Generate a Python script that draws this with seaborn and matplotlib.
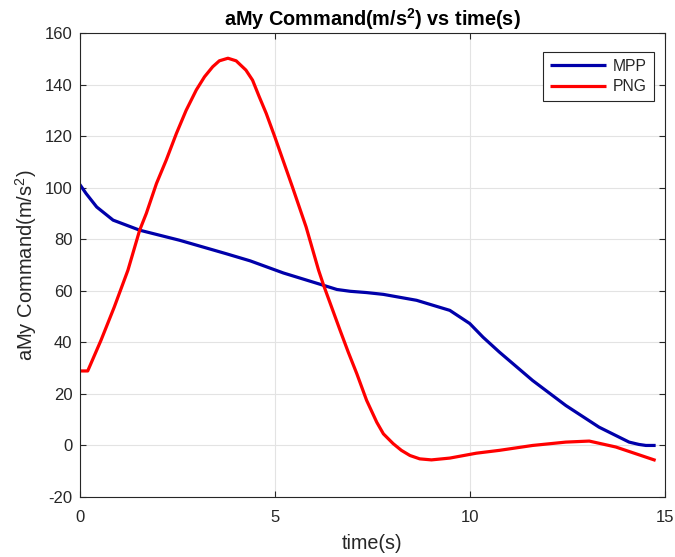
import pandas as pd
import numpy as np
import matplotlib
matplotlib.use('Agg')
import matplotlib.pyplot as plt
import seaborn as sns

# Values
mpp_t = [0, 0.17, 0.44, 0.86, 1.54, 2.56, 3.75, 4.37, 5.22, 6.25, 6.59, 6.93, 7.35,
         7.78, 8.63, 9.48, 9.99, 10.33, 10.75, 11.6, 12.45, 13.3, 14.07, 14.32, 14.5, 14.75]
mpp_y = [101.4, 97.7, 92.5, 87.4, 83.5, 79.6, 74.4, 71.6, 66.9, 62.1, 60.5, 59.8, 59.3,
         58.6, 56.3, 52.4, 47.3, 42.0, 36.2, 25.2, 15.5, 7.1, 1.3, 0.4, 0.0, 0.0]

png_t = [0, 0.21, 0.55, 0.89, 1.24, 1.54, 1.71, 1.97, 2.22, 2.48, 2.73, 2.99, 3.20,
         3.41, 3.58, 3.80, 4.01, 4.26, 4.43, 4.60, 4.78, 5.0, 5.45, 5.8, 6.12, 6.25,
         6.67, 6.88, 7.1, 7.35, 7.61, 7.78, 8.03, 8.24, 8.46, 8.71, 9.01, 9.48,
         10.16, 10.75, 11.6, 12.45, 13.05, 13.73, 14.75]
png_y = [28.9, 28.9, 40.8, 53.7, 68.0, 83.5, 90.0, 101.6, 110.7, 121.0, 130.0, 137.9, 143.0,
         146.9, 149.2, 150.2, 149.2, 145.6, 141.7, 135.3, 128.8, 119.7, 100.3, 84.8, 68.0, 62.1,
         44.7, 36.2, 27.8, 17.5, 9.0, 4.5, 0.7, -1.9, -3.9, -5.2, -5.6, -4.9,
         -3.0, -1.9, 0.0, 1.3, 1.7, -0.6, -5.8]

series_names = ['MPP', 'PNG']
x_ticks = [0, 5, 10, 15]
y_ticks = [-20, 0, 20, 40, 60, 80, 100, 120, 140, 160]

df = pd.concat([
    pd.DataFrame({'time': mpp_t, 'value': mpp_y, 'method': 'MPP'}),
    pd.DataFrame({'time': png_t, 'value': png_y, 'method': 'PNG'}),
], ignore_index=True)

sns.set_style('whitegrid')
plt.rcParams['font.family'] = ['Liberation Sans', 'DejaVu Sans']
plt.rcParams['mathtext.fontset'] = 'custom'
plt.rcParams['mathtext.rm'] = 'Liberation Sans'
plt.rcParams['mathtext.bf'] = 'Liberation Sans:bold'
plt.rcParams['axes.unicode_minus'] = False

fig = plt.figure(figsize=(6.75, 5.57), dpi=100)
ax = fig.add_axes([0.1178, 0.1077, 0.868, 0.8331])

sns.lineplot(data=df, x='time', y='value', hue='method', hue_order=series_names,
             palette={'MPP': '#0000AA', 'PNG': '#FF0000'}, linewidth=2.3,
             sort=False, ax=ax, solid_joinstyle='round', solid_capstyle='butt')

ax.set_xlim(0, 15)
ax.set_ylim(-20, 160)
ax.set_xticks(x_ticks)
ax.set_yticks(y_ticks)
ax.grid(True, color='#E3E3E3', linewidth=0.8)
for s in ax.spines.values():
    s.set_visible(True)
    s.set_color('#262626')
    s.set_linewidth(0.8)
ax.tick_params(direction='in', length=4, width=0.8, colors='#262626',
               labelsize=12, top=True, right=True, left=True, bottom=True)
ax.tick_params(axis='x', pad=9)
ax.tick_params(axis='y', pad=5)

ax.set_title(r'aMy Command(m/s$^\mathbf{2}$) vs time(s)', fontsize=14.3,
             fontweight='bold', color='black', pad=5)
ax.set_xlabel('time(s)', fontsize=14.2, color='#262626', labelpad=7)
ax.set_ylabel(r'aMy Command(m/s$^2$)', fontsize=14.5, color='#262626', labelpad=4)

leg = ax.legend(loc='upper right', bbox_to_anchor=(0.98, 0.96), borderaxespad=0,
                fontsize=11.3, frameon=True, fancybox=False, handlelength=3.6,
                borderpad=0.45, labelspacing=0.35, handletextpad=0.4)
leg.get_frame().set_edgecolor('#262626')
leg.get_frame().set_linewidth(0.8)
leg.get_frame().set_alpha(1)

fig.savefig('out.png', dpi=100)
